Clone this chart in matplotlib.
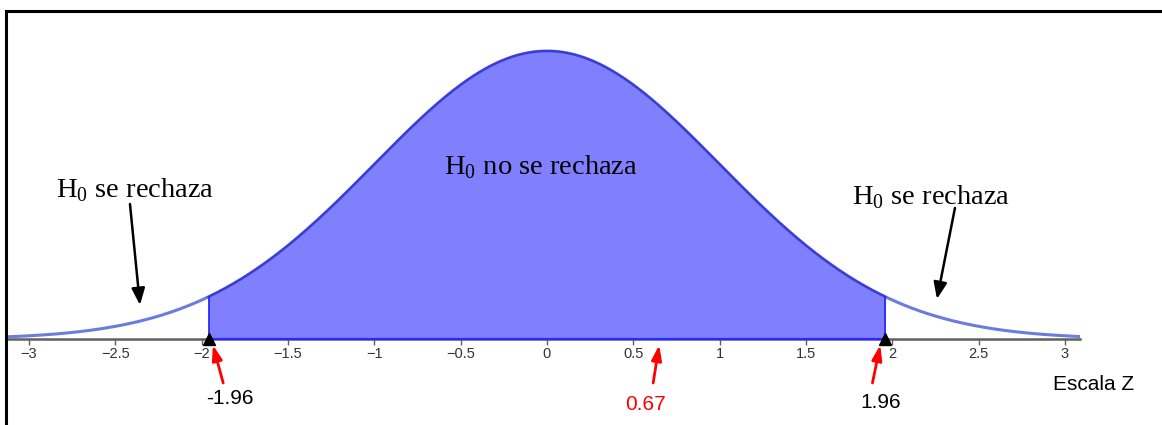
import numpy as np
import matplotlib
matplotlib.use("Agg")
import matplotlib.pyplot as plt
from matplotlib.lines import Line2D

plt.rcParams["mathtext.fontset"] = "custom"
plt.rcParams["mathtext.rm"] = "Liberation Serif"

# Data
z_crit = 1.96
z_obs = 0.67
tick_values = [-3, -2.5, -2, -1.5, -1, -0.5, 0, 0.5, 1, 1.5, 2, 2.5, 3]
tick_labels = ["\u22123", "\u22122.5", "\u22122", "\u22121.5", "\u22121", "\u22120.5",
               "0", "0.5", "1", "1.5", "2", "2.5", "3"]
x_limits = (-3.133, 3.087)
y_top = 0.4544

W, H = 1162, 425
fig = plt.figure(figsize=(W / 100, H / 100), dpi=100)

# Axes placed in pixel terms: left 6, right 1080, bottom 339, top 11
ax = fig.add_axes([6 / W, (H - 339) / H, (1080 - 6) / W, (339 - 11) / H])
ax.set_xlim(*x_limits)
ax.set_ylim(0, y_top)

# Standard normal density
x = np.linspace(x_limits[0], x_limits[1], 1200)
pdf = np.exp(-x ** 2 / 2) / np.sqrt(2 * np.pi)

# Acceptance region
mask = (x >= -z_crit) & (x <= z_crit)
xf = np.concatenate([[-z_crit], x[mask], [z_crit]])
yf = np.exp(-xf ** 2 / 2) / np.sqrt(2 * np.pi)
ax.fill_between(xf, 0, yf, color="#8080ff", lw=0, zorder=2)

# Tails and central curve
ax.plot(x, pdf, color="#6a7cdc", lw=2.2, zorder=3, solid_capstyle="butt")
ax.plot(xf, yf, color="#3a3ad8", lw=1.6, zorder=4)
pc = np.exp(-z_crit ** 2 / 2) / np.sqrt(2 * np.pi)
for s in (-1, 1):
    ax.plot([s * z_crit, s * z_crit], [0, pc], color="#2a2aff", lw=1.3, zorder=4)
ax.plot([-z_crit, z_crit], [0, 0], color="#2a2aff", lw=1.6, zorder=5, clip_on=False)

# Axis styling
for side in ("top", "right", "left"):
    ax.spines[side].set_visible(False)
ax.spines["bottom"].set_color("#606060")
ax.spines["bottom"].set_linewidth(1.8)
ax.set_yticks([])
ax.set_xticks(tick_values)
ax.set_xticklabels(tick_labels, fontsize=10.5, family="Liberation Sans", color="#333333")
ax.tick_params(axis="x", direction="out", length=4, width=1, color="#606060", pad=2)

# Critical value markers
ax.plot([-z_crit, z_crit], [0, 0], marker="^", ls="none", color="black",
        markersize=8, zorder=6, clip_on=False)

# Helper: pixel row to data y
def py(row):
    return (339 - row) / (339 - 11) * y_top

# Red arrows to values on the axis
arrow_kw = dict(arrowstyle="-|>,head_length=0.9,head_width=0.3", color="red", lw=2,
                shrinkA=0, shrinkB=0)
for val, dx_tip, dx_tail in [(-z_crit, 0.025, 0.085), (z_obs, -0.02, -0.055),
                             (z_crit, -0.03, -0.075)]:
    ax.annotate("", xy=(val + dx_tip, py(345)), xytext=(val + dx_tail, py(383)),
                arrowprops=arrow_kw, annotation_clip=False)

# Value labels
lab_kw = dict(ha="center", va="center", fontsize=15, family="Liberation Sans")
ax.text(-z_crit + 0.125, py(399), "-1.96", color="black", **lab_kw, clip_on=False)
ax.text(z_obs - 0.1, py(405), f"{z_obs:.2f}", color="red", **lab_kw, clip_on=False)
ax.text(z_crit - 0.03, py(402), f"{z_crit:.2f}", color="black", **lab_kw, clip_on=False)
ax.text((1094 - 547) / 172.67, py(385), "Escala Z", color="black",
        **lab_kw, clip_on=False)

# Region annotations
txt_kw = dict(fontsize=20.5, family="Liberation Serif", color="black", va="center")
ax.text(-0.595, py(167), r"H$_{\mathrm{0}}$ no se rechaza", ha="left", **txt_kw)
ax.text(-2.845, py(190), r"H$_{\mathrm{0}}$ se rechaza", ha="left", **txt_kw)
ax.text(1.765, py(197), r"H$_{\mathrm{0}}$ se rechaza", ha="left", **txt_kw)

black_kw = dict(arrowstyle="-|>,head_length=1.0,head_width=0.4", color="black", lw=1.8,
                shrinkA=0, shrinkB=0)
ax.annotate("", xy=((140 - 547) / 172.67, py(305)), xytext=((130 - 547) / 172.67, py(204)),
            arrowprops=black_kw, annotation_clip=False)
ax.annotate("", xy=((937 - 547) / 172.67, py(299)), xytext=((955 - 547) / 172.67, py(208)),
            arrowprops=black_kw, annotation_clip=False)

# Frame lines on the figure (top and left)
fig.add_artist(Line2D([6 / W, 1.0], [1 - 11 / H, 1 - 11 / H], color="black", lw=2.2))
fig.add_artist(Line2D([6 / W, 6 / W], [0, 1 - 11 / H], color="black", lw=2.2))

fig.savefig("out.png", dpi=100)
